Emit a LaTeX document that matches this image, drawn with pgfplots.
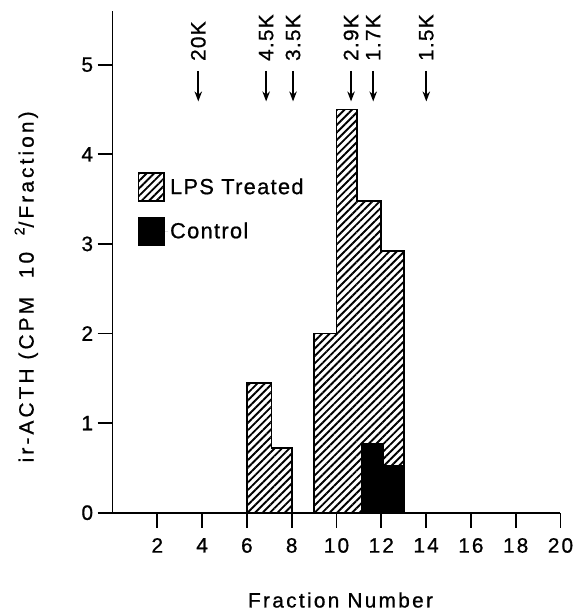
\documentclass[border=0pt]{standalone}
\usepackage{pgfplots}
\pgfplotsset{compat=1.18}
\usepackage{fontspec}
\setmainfont{Liberation Sans}
\newfontfamily\tickf{Liberation Sans}[LetterSpace=10,FakeBold=0.8]
\newfontfamily\mwf{Liberation Sans}[LetterSpace=6,FakeBold=0.8]
\newfontfamily\legf{Liberation Sans}[LetterSpace=6,FakeBold=0.8]
\newfontfamily\xlabf{Liberation Sans}[LetterSpace=11,FakeBold=0.8]
\newfontfamily\ylabf{Liberation Sans}[LetterSpace=15,FakeBold=0.8]
\usetikzlibrary{patterns.meta,arrows.meta}
\begin{document}
\begin{tikzpicture}
\begin{axis}[
  scale only axis, width=450bp, height=504bp,
  xmin=0, xmax=20, ymin=0, ymax=5.6,
  axis x line*=bottom, axis y line*=left,
  axis line style={line width=1.8bp, -},
  xtick={2,4,...,20}, ytick={0,1,...,5},
  tick style={line width=1.8bp, black},
  major tick length=15bp,
  tick align=outside,
  /pgf/number format/assume math mode=true,
  xticklabel style={font=\tickf\fontsize{21}{22}\selectfont, yshift=-7bp},
  yticklabel style={font=\tickf\fontsize{21}{22}\selectfont, xshift=-1bp},
  clip=false,
  legend style={at={(axis cs:1.111,3.80)}, anchor=north west, draw=none, fill=none,
    font=\legf\fontsize{22}{24}\selectfont, row sep=15bp, inner sep=0pt},
  legend cell align=left,
  legend image code/.code={\draw[#1, line width=1.3bp] (0bp,-14bp) rectangle (26bp,14bp);
    \path[draw=none] (0bp,0bp) -- (30bp,0bp);},
]
% LPS treated (hatched)
\addplot[draw=black, line width=1.8bp, pattern={Lines[angle=45,distance=5.3bp,line width=1.9bp]}]
  coordinates {(6,0) (6,1.45) (7.1,1.45) (7.1,0.72) (8,0.72) (8,0)} -- cycle;
\addlegendentry{LPS Treated}
\addplot[forget plot, draw=black, line width=1.8bp, pattern={Lines[angle=45,distance=5.3bp,line width=1.9bp]}]
  coordinates {(9,0) (9,2.0) (10,2.0) (10,4.5) (10.9,4.5) (10.9,3.48) (12,3.48) (12,2.92) (13,2.92) (13,0)} -- cycle;
% Control (solid)
\addplot[draw=black, line width=1.2bp, fill=black]
  coordinates {(11.1,0) (11.1,0.77) (12.1,0.77) (12.1,0.53) (13,0.53) (13,0)} -- cycle;
\addlegendentry{Control}
% molecular weight markers
\draw[line width=1.8bp, -{Stealth[length=10bp,width=7.5bp]}] (axis cs:3.83,4.93) -- (axis cs:3.83,4.59);
\draw[line width=1.8bp, -{Stealth[length=10bp,width=7.5bp]}] (axis cs:6.86,4.93) -- (axis cs:6.86,4.59);
\draw[line width=1.8bp, -{Stealth[length=10bp,width=7.5bp]}] (axis cs:8.06,4.93) -- (axis cs:8.06,4.59);
\draw[line width=1.8bp, -{Stealth[length=10bp,width=7.5bp]}] (axis cs:10.65,4.93) -- (axis cs:10.65,4.59);
\draw[line width=1.8bp, -{Stealth[length=10bp,width=7.5bp]}] (axis cs:11.64,4.93) -- (axis cs:11.64,4.59);
\draw[line width=1.8bp, -{Stealth[length=10bp,width=7.5bp]}] (axis cs:14.01,4.93) -- (axis cs:14.01,4.59);
\begin{scope}[every node/.style={rotate=90, anchor=west, inner sep=0pt, font=\mwf\fontsize{21}{22}\selectfont}]
\node at (axis cs:3.83,5.04) {20K};
\node at (axis cs:6.86,5.04) {4.5K};
\node at (axis cs:8.06,5.04) {3.5K};
\node at (axis cs:10.65,5.04) {2.9K};
\node at (axis cs:11.64,5.04) {1.7K};
\node at (axis cs:14.01,5.04) {1.5K};
\end{scope}
% axis labels
\node[rotate=90, font=\ylabf\fontsize{21}{22}\selectfont] at (axis cs:-3.85,2.52)
  {ir-ACTH (CPM\hspace{0.9em}10\hspace{0.8em}\raisebox{0.45em}{\fontsize{14}{15}\selectfont 2}/Fraction)};
\node[font=\xlabf\fontsize{21}{22}\selectfont] at (axis cs:10.18,-0.975) {Fraction Number};
% page frame
\path (axis cs:-5.022,-1.0667) rectangle (axis cs:20.8,5.722);
\end{axis}
\end{tikzpicture}
\end{document}
